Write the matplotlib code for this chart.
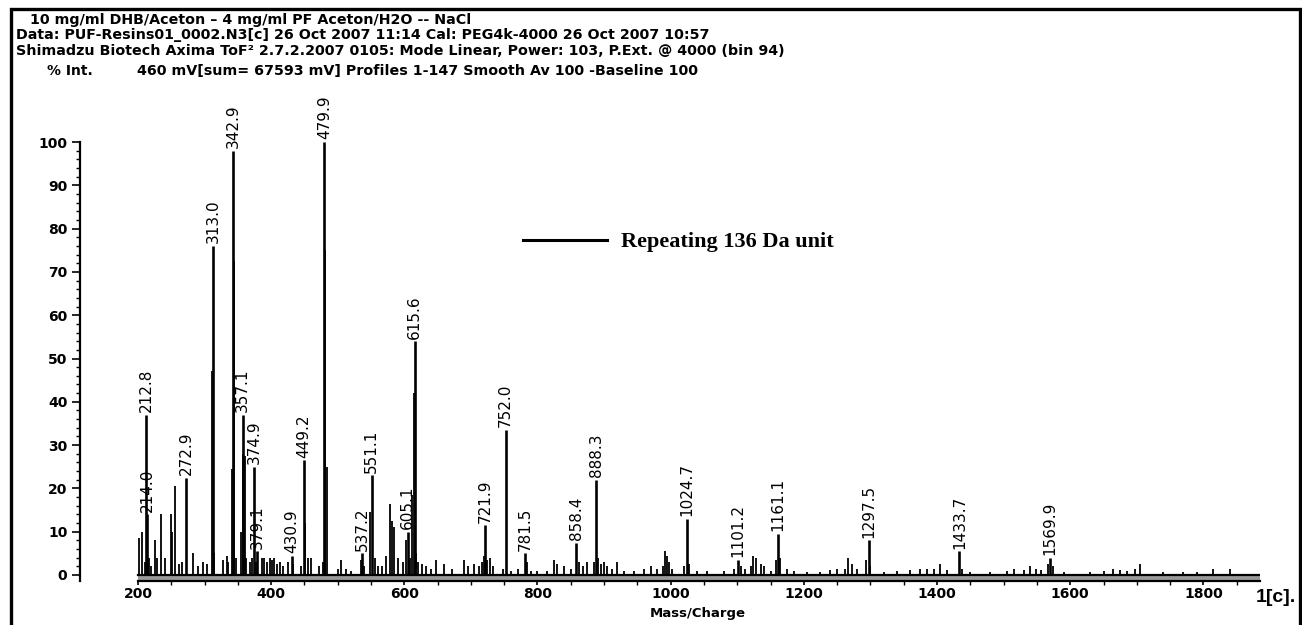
import numpy as np
import matplotlib.pyplot as plt
from matplotlib.lines import Line2D
from matplotlib.patches import Rectangle

# Figure size in pixels
W, H = 1302, 625

# Labelled peaks (m/z, % intensity)
peak_mz = [212.8, 214.0, 272.9, 313.0, 342.9, 357.1, 374.9, 379.1, 430.9, 449.2,
           479.9, 537.2, 551.1, 605.1, 615.6, 721.9, 752.0, 781.5, 858.4, 888.3,
           1024.7, 1101.2, 1161.1, 1297.5, 1433.7, 1569.9]
peak_int = [37, 14, 22.5, 76, 98, 37, 25, 5.5, 4.5, 26.5,
            100, 5, 23, 10, 54, 11.5, 33.5, 5, 7.5, 22,
            13, 3.5, 9.5, 8, 5.5, 4]

# Unlabelled peaks and background signal
minor_mz = [202, 206, 210, 216, 219, 225.5, 229, 234, 240.5, 250, 251.5, 255.5, 262, 266,
            283, 290, 298, 303, 311.5, 314, 328, 333, 336, 341, 344, 348, 355, 358.5,
            360.5, 363, 368, 371, 377, 386, 390, 394, 398, 402, 405, 409, 413, 418, 426,
            433, 445, 451, 455, 460, 472, 478, 481, 483.5, 500, 505, 512, 520, 535, 540,
            549, 556, 560, 566, 573, 578, 581, 584, 590, 598, 602, 608, 612, 614, 617,
            621, 626, 632, 640, 648, 660, 672, 690, 695, 705, 712, 716, 719, 724, 728,
            733, 748, 760, 770, 784, 790, 800, 815, 825, 830, 840, 850, 862, 868, 875,
            885, 891, 895, 900, 905, 912, 920, 930, 945, 960, 970, 980, 988, 991, 994,
            998, 1002, 1020, 1028, 1040, 1055, 1080, 1095, 1105, 1112, 1120, 1124, 1128,
            1135, 1140, 1150, 1158, 1164, 1175, 1185, 1205, 1225, 1240, 1250, 1262, 1266,
            1272, 1280, 1294, 1300, 1320, 1340, 1360, 1375, 1385, 1395, 1405, 1415, 1438,
            1450, 1480, 1505, 1515, 1530, 1540, 1548, 1556, 1566, 1574, 1590, 1630, 1650,
            1665, 1675, 1685, 1698, 1705, 1740, 1770, 1790, 1815, 1840]
minor_int = [8.5, 10, 3, 4, 2, 8, 4, 14, 4, 14, 10, 20.5, 2.5, 3,
             5, 2, 3, 2.5, 47, 5, 3.5, 4.5, 3, 24.5, 72.5, 4, 10, 28,
             27.5, 4, 3, 4, 3, 4, 4, 3, 4, 3.5, 4, 2.5, 3, 2, 3,
             2.5, 2, 12, 4, 4, 2, 3, 75, 25, 1.5, 3.5, 1.5, 1, 3.5, 2,
             14.5, 4, 2, 2, 4.5, 16.5, 12.5, 11, 4, 3, 8, 4, 18.5, 42, 5,
             3, 2.5, 2, 1.5, 3.5, 2.5, 1.5, 3.5, 2, 2.5, 2, 3, 4.5, 3.5, 4,
             2, 1.5, 1, 1.5, 3, 1, 1, 1, 3.5, 2.5, 2, 1.5, 3, 2, 3,
             3, 4, 2.5, 3, 2, 1.5, 3, 1, 1, 1.5, 2, 1.5, 2, 5.5, 4.5,
             3, 1.5, 2, 2.5, 1, 1, 1, 1.5, 2, 1.5, 2, 4.5, 4,
             2.5, 2, 1, 3.5, 4, 1.5, 1, 0.8, 0.8, 1.2, 1.5, 1.5, 4,
             2.5, 1.5, 3.5, 2, 0.8, 1, 1.2, 1.5, 1.5, 1.5, 2.5, 1.2, 1.5,
             0.8, 0.8, 1, 1.5, 1.2, 2, 1.5, 1.2, 2.5, 2, 0.8, 0.8, 1,
             1.5, 1.2, 1, 1.5, 2.5, 0.8, 0.8, 0.8, 1.5, 1.5]

x_ticks = [200, 400, 600, 800, 1000, 1200, 1400, 1600, 1800]
y_ticks = [0, 10, 20, 30, 40, 50, 60, 70, 80, 90, 100]

header_lines = [
    "10 mg/ml DHB/Aceton \u2013 4 mg/ml PF Aceton/H2O -- NaCl",
    "Data: PUF-Resins01_0002.N3[c] 26 Oct 2007 11:14 Cal: PEG4k-4000 26 Oct 2007 10:57",
    "Shimadzu Biotech Axima ToF\u00b2 2.7.2.2007 0105: Mode Linear, Power: 103, P.Ext. @ 4000 (bin 94)",
]
info_line = "460 mV[sum= 67593 mV] Profiles 1-147 Smooth Av 100 -Baseline 100"


def fx(px):
    return px / W


def fy(py):
    return 1 - py / H


fig = plt.figure(figsize=(W / 100, H / 100), dpi=100)

# outer frame
fig.patches.append(Rectangle((fx(11), fy(700)), fx(1300) - fx(11), fy(9) - fy(700),
                             transform=fig.transFigure, fill=False, lw=2.4,
                             edgecolor='black'))

# header block
for i, line in enumerate(header_lines):
    fig.text(fx(30 if i == 0 else 16), fy(20 + i * 15.5), line, fontsize=10.3,
             fontweight='bold', va='center', ha='left')
fig.text(fx(47), fy(71), "% Int.", fontsize=10, fontweight='bold', va='center')
fig.text(fx(137), fy(71), info_line, fontsize=10.3, fontweight='bold', va='center')

ymin, ymax = -1.5, 101
px_per = (575 - 142) / 100
top_px = 142 - (ymax - 100) * px_per
bot_px = 575 - ymin * px_per
ax = fig.add_axes([fx(80), fy(bot_px), fx(1260) - fx(80), (bot_px - top_px) / H])
ax.set_xlim(113, 1885)
ax.set_ylim(ymin, ymax)
ax.patch.set_alpha(0)

# spectrum
ax.vlines(minor_mz, 0, minor_int, color='black', lw=1.3)
ax.vlines(peak_mz, 0, peak_int, color='black', lw=1.9)
ax.fill_between([200, 1885], -1.3, 0, color='#9a9a9a', lw=0)
ax.plot([200, 1885], [0, 0], color='black', lw=1.6)

for mz, h in zip(peak_mz, peak_int):
    ax.text(mz, h + 0.6, f"{mz:.1f}", rotation=90, ha='center', va='bottom',
            fontsize=11, clip_on=False)

# axes styling
for s in ['top', 'right']:
    ax.spines[s].set_visible(False)
ax.spines['left'].set_bounds(-1.5, 100)
ax.spines['left'].set_linewidth(1.6)
ax.spines['bottom'].set_position(('data', -1.3))
ax.spines['bottom'].set_bounds(200, 1885)
ax.spines['bottom'].set_linewidth(1.6)

ax.set_yticks(y_ticks)
ax.set_yticks(np.arange(0, 101, 2), minor=True)
ax.set_xticks(x_ticks)
ax.set_xticks(np.arange(200, 1851, 50), minor=True)
ax.tick_params(axis='y', which='major', length=6, width=1.2, pad=3, labelsize=10)
ax.tick_params(axis='y', which='minor', length=3, width=1)
ax.tick_params(axis='x', which='major', length=3, width=1.2, pad=1.5, labelsize=10)
ax.tick_params(axis='x', which='minor', length=3, width=1)
for lab in ax.get_xticklabels() + ax.get_yticklabels():
    lab.set_fontweight('bold')

ax.set_xlabel("Mass/Charge", fontsize=9.5, fontweight='bold')
ax.xaxis.set_label_coords((698 - 80) / 1180, -(607 - bot_px) / (bot_px - top_px))

# repeating unit note
handle = Line2D([], [], color='black', lw=2.2)
ax.legend([handle], ["Repeating 136 Da unit"], loc='center left',
          bbox_to_anchor=(fx(523), fy(242)), bbox_transform=fig.transFigure,
          frameon=False, borderpad=0, borderaxespad=0, handlelength=3.8,
          handletextpad=0.6,
          prop={'family': 'Liberation Serif', 'weight': 'bold', 'size': 16})

fig.text(fx(1256), fy(597), "1[c].", fontsize=14, fontweight='bold',
         family='Liberation Sans', va='center', ha='left')

fig.savefig("out.png", dpi=100)
